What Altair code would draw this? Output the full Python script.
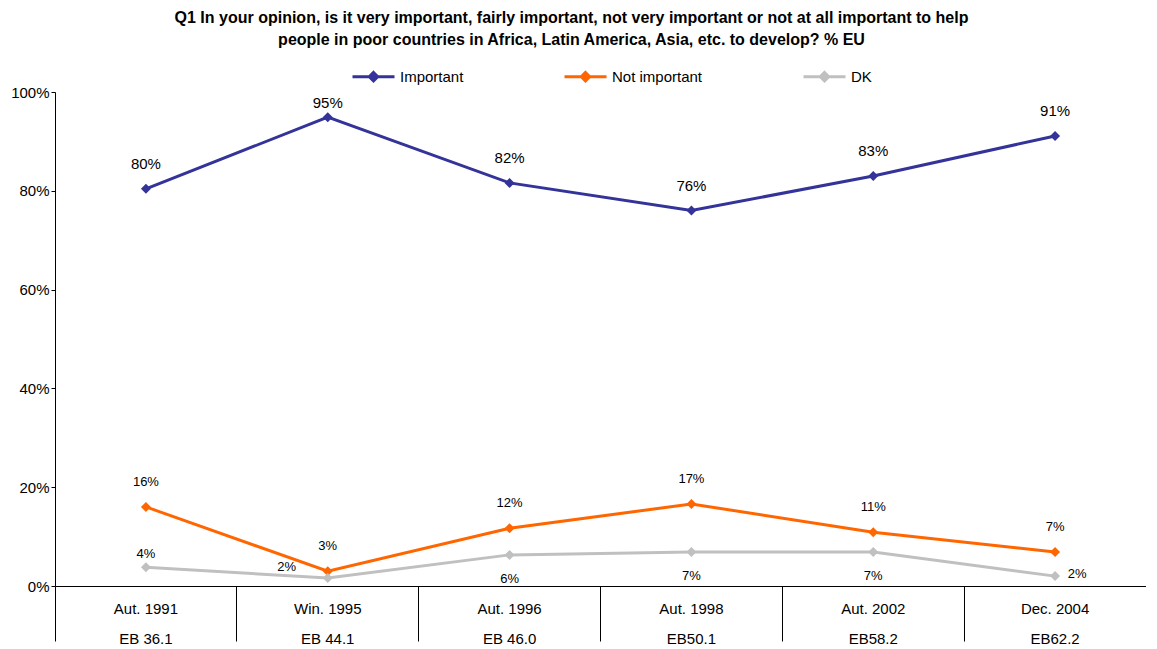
import altair as alt
import pandas as pd

periods = ["Aut. 1991", "Win. 1995", "Aut. 1996", "Aut. 1998", "Aut. 2002", "Dec. 2004"]
waves = ["EB 36.1", "EB 44.1", "EB 46.0", "EB50.1", "EB58.2", "EB62.2"]
series = ["Important", "Not important", "DK"]
important = [80.4, 94.9, 81.6, 76.0, 83.0, 91.1]
not_important = [16.0, 3.0, 11.7, 16.6, 10.9, 6.9]
dk = [3.8, 1.6, 6.3, 6.9, 6.9, 2.0]
colors = ["#333399", "#FF6600", "#C0C0C0"]

cats = [p + "|" + w for p, w in zip(periods, waves)]
rows = []
for s, vals in zip(series, [important, not_important, dk]):
    for i, (c, v) in enumerate(zip(cats, vals)):
        rows.append({"period": c, "series": s, "value": v, "idx": i,
                     "label": f"{round(v)}%"})
df = pd.DataFrame(rows)

W, H = 1091, 494
FONT = "Liberation Sans"

x = alt.X("period:N", sort=cats,
          scale=alt.Scale(type="band", paddingInner=0, paddingOuter=0),
          axis=alt.Axis(title=None, labelExpr="split(datum.value, '|')", labelAngle=0,
                        tickSize=55, labelPadding=-40, bandPosition=0,
                        labelFontSize=15, labelLineHeight=30, labelBaseline="top",
                        labelColor="black", domainColor="black", tickColor="black",
                        domainWidth=1, tickWidth=1, labelFont=FONT))
y = alt.Y("value:Q", scale=alt.Scale(domain=[0, 100]),
          axis=alt.Axis(title=None, values=[0, 20, 40, 60, 80, 100], grid=False,
                        labelExpr="datum.value + '%'", tickSize=4, labelFontSize=15,
                        labelColor="black", domainColor="black", tickColor="black",
                        labelPadding=2, labelFont=FONT))

legend = alt.Legend(title=None, orient="none", legendX=296, legendY=-38,
                    direction="horizontal", columnPadding=94,
                    symbolType="M-1,0H1M0,-0.2L0.2,0L0,0.2L-0.2,0Z",
                    symbolSize=1764, symbolStrokeWidth=3, labelFontSize=15,
                    labelFont=FONT, labelColor="black", labelOffset=4)
color = alt.Color("series:N", sort=series,
                  scale=alt.Scale(domain=series, range=colors), legend=legend)

base = alt.Chart(df).encode(x=x, y=y)

lines = base.mark_line(strokeWidth=3).encode(color=color, detail="series:N")
points = base.mark_point(shape="diamond", filled=True, size=100, opacity=1).encode(color=color)


def txt(filt, size, dx=0, dy=0):
    return base.transform_filter(filt).mark_text(
        fontSize=size, dx=dx, dy=dy, font=FONT, color="black"
    ).encode(text="label:N")


texts = [
    txt("datum.series == 'Important' && datum.idx != 1", 15, dy=-25),
    txt("datum.series == 'Important' && datum.idx == 1", 15, dy=-14),
    txt("datum.series == 'Not important'", 13, dy=-25),
    txt("datum.series == 'DK' && datum.idx == 0", 13, dy=-13),
    txt("datum.series == 'DK' && datum.idx == 1", 13, dx=-41, dy=-11),
    txt("datum.series == 'DK' && datum.idx >= 2 && datum.idx <= 4", 13, dy=24),
    txt("datum.series == 'DK' && datum.idx == 5", 13, dx=22, dy=-2),
]

chart = alt.layer(lines, points, *texts).properties(
    width=W, height=H,
    padding={"left": 2, "right": 0, "top": 2, "bottom": 0},
    title=alt.Title(
        ["Q1 In your opinion, is it very important, fairly important, not very important or not at all important to help",
         "people in poor countries in Africa, Latin America, Asia, etc. to develop? % EU"],
        font=FONT, fontSize=16, fontWeight="bold", color="black", lineHeight=22,
        anchor="middle", offset=6, dx=-29),
).configure(font=FONT).configure_view(stroke=None)

chart.save("out.html", embed_options={"renderer": "svg", "actions": False})
